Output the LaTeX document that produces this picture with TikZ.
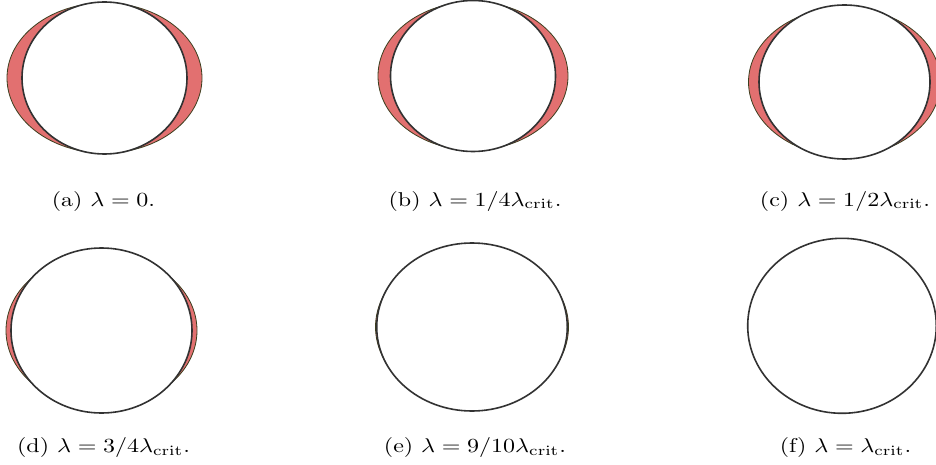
\documentclass[tikz,border=0pt]{standalone}
\begin{document}
\begin{tikzpicture}[x=1pt,y=-1pt,
  outerell/.style={fill=crescent, draw=rimolive, line width=0.8pt},
  innerell/.style={fill=white, draw=ringgray, line width=1.6pt},
  subcap/.style={anchor=base, inner sep=0pt, font=\normalsize}]
\definecolor{crescent}{RGB}{226,112,112}
\definecolor{rimolive}{RGB}{60,62,30}
\definecolor{ringgray}{RGB}{50,50,50}
\clip (0,0) rectangle (936,465);
\fill[white] (0,0) rectangle (936,465);
% (a)
\draw[outerell] (104.5,78) ellipse [x radius=97.5, y radius=75];
\draw[innerell] (104.5,78) ellipse [x radius=82.5, y radius=76];
% (b)
\draw[outerell] (473,76) ellipse [x radius=95, y radius=74];
\draw[innerell] (473,76) ellipse [x radius=82.5, y radius=75.5];
% (c)
\draw[outerell] (844.5,82) ellipse [x radius=96, y radius=74];
\draw[innerell] (844.5,82) ellipse [x radius=85.5, y radius=77];
% (d)
\draw[outerell] (101.5,330.5) ellipse [x radius=95.5, y radius=77];
\draw[innerell] (101.5,330.5) ellipse [x radius=90.5, y radius=82.5];
% (e)
\draw[outerell] (472,327) ellipse [x radius=96.5, y radius=78];
\draw[innerell] (472,327) ellipse [x radius=95.3, y radius=84];
% (f)
\draw[innerell] (842,325.8) ellipse [x radius=94.3, y radius=87.5];
% captions
\node[subcap] (capa) at (103.5,206) {\scalebox{2.4}[2]{(a) $\lambda = 0$.}};
\node[subcap] (capb) at (475,206) {\scalebox{2.4}[2]{(b) $\lambda = 1/4\lambda_{\mathrm{crit}}$.}};
\node[subcap] (capc) at (845,206) {\scalebox{2.4}[2]{(c) $\lambda = 1/2\lambda_{\mathrm{crit}}$.}};
\node[subcap] (capd) at (103.5,452) {\scalebox{2.4}[2]{(d) $\lambda = 3/4\lambda_{\mathrm{crit}}$.}};
\node[subcap] (cape) at (475,452) {\scalebox{2.4}[2]{(e) $\lambda = 9/10\lambda_{\mathrm{crit}}$.}};
\node[subcap] (capf) at (845.5,452) {\scalebox{2.4}[2]{(f) $\lambda = \lambda_{\mathrm{crit}}$.}};
\end{tikzpicture}
\end{document}
